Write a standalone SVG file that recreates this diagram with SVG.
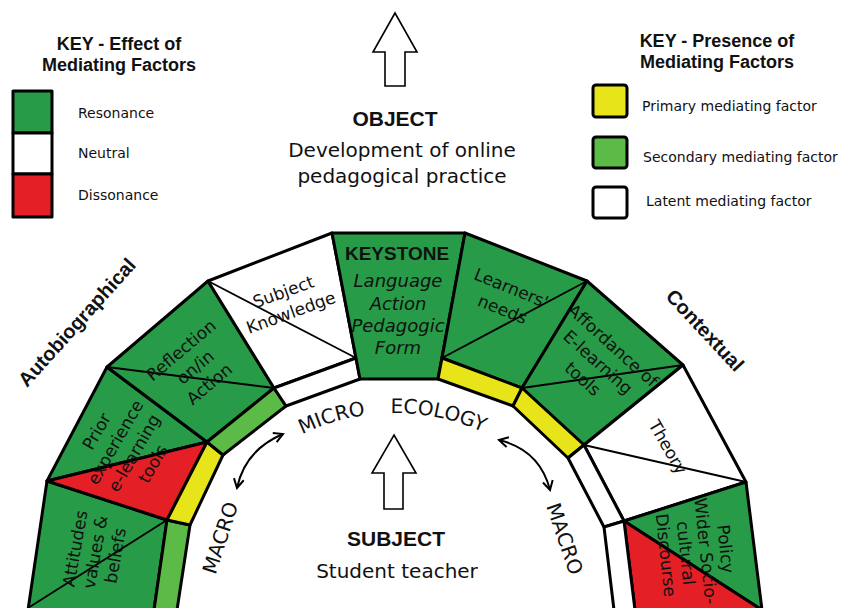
<svg xmlns="http://www.w3.org/2000/svg" width="842" height="608" viewBox="0 0 842 608">
<defs>
<style>
.seg{stroke:#000;stroke-width:3;stroke-linejoin:round}
.dg{fill:#279B48}.lg{fill:#5CBA47}.ye{fill:#E8E41A}.rd{fill:#E41F26}.wh{fill:#fff}
.diag{stroke:#000;stroke-width:1.8;fill:none}
.t{font-family:"DejaVu Sans",Verdana,sans-serif;fill:#111}
.st{font-size:17px;text-anchor:middle}
.b{font-family:"Liberation Sans",Arial,sans-serif;font-weight:bold;fill:#111}
.arrowbig{fill:#fff;stroke:#000;stroke-width:1.6;stroke-linejoin:miter}
.conn{fill:none;stroke:#000;stroke-width:2}
</style>
<marker id="chev" viewBox="0 0 12 12" refX="10" refY="6" markerWidth="12" markerHeight="12" markerUnits="userSpaceOnUse" orient="auto-start-reverse">
<path d="M1,1 L10,6 L1,11" fill="none" stroke="#000" stroke-width="2"/>
</marker>
</defs>
<rect width="842" height="608" fill="#fff"/>

<g id="key-effect">
<text class="b" x="119" y="50" font-size="18" text-anchor="middle">KEY - Effect of</text>
<text class="b" x="119" y="71" font-size="18" text-anchor="middle">Mediating Factors</text>
<rect class="seg dg" x="13" y="91" width="39" height="42"/>
<rect class="seg wh" x="13" y="133" width="39" height="41"/>
<rect class="seg rd" x="13" y="174" width="39" height="43"/>
<text class="t" x="78" y="118" font-size="14">Resonance</text>
<text class="t" x="78" y="158" font-size="14">Neutral</text>
<text class="t" x="78" y="200" font-size="14">Dissonance</text>
</g>

<g id="key-presence">
<text class="b" x="717" y="47" font-size="18" text-anchor="middle">KEY - Presence of</text>
<text class="b" x="717" y="68" font-size="18" text-anchor="middle">Mediating Factors</text>
<rect class="seg ye" x="593" y="85" width="34" height="32" rx="3"/>
<rect class="seg lg" x="593" y="137" width="34" height="31" rx="3"/>
<rect class="seg wh" x="593" y="187" width="34" height="31" rx="3"/>
<text class="t" x="642" y="111" font-size="14">Primary mediating factor</text>
<text class="t" x="643" y="162" font-size="14">Secondary mediating factor</text>
<text class="t" x="646" y="206" font-size="14">Latent mediating factor</text>
</g>

<g id="object">
<polygon class="arrowbig" points="395,13 417,52 405,52 405,86 385,86 385,52 373,52"/>
<text class="b" x="395" y="126" font-size="21" text-anchor="middle">OBJECT</text>
<text class="t" x="402" y="157" font-size="20" text-anchor="middle">Development of online</text>
<text class="t" x="402" y="183" font-size="20" text-anchor="middle">pedagogical practice</text>
</g>

<g id="subject">
<polygon class="arrowbig" points="394,435 416,473 403,473 403,509 384,509 384,473 372,473"/>
<text class="b" x="396" y="546" font-size="21" text-anchor="middle">SUBJECT</text>
<text class="t" x="397" y="578" font-size="20" text-anchor="middle">Student teacher</text>
</g>

<g id="attitudes">
<polygon class="seg dg" points="28,610 47,481 167,520 154,610"/>
<line class="diag" x1="28" y1="608" x2="167" y2="520"/>
<polygon class="seg lg" points="167,520 190,525 177,610 154,610"/>
<text class="t st" transform="translate(95,552) rotate(-80)"><tspan x="0" y="-14.3">Attitudes</tspan><tspan x="0" y="6.1">values &amp;</tspan><tspan x="0" y="26.5">beliefs</tspan></text>
</g>

<g id="prior-experience">
<polygon class="seg dg" points="47,481 107,367 207,442"/>
<polygon class="seg rd" points="47,481 207,442 167,520"/>
<polygon class="seg ye" points="207,442 223,455 190,525 167,520"/>
<text class="t st" transform="translate(124.6,447.5) rotate(-60)"><tspan x="0" y="-26.3">Prior</tspan><tspan x="0" y="-4.7">experience</tspan><tspan x="0" y="16.9">e-learning</tspan><tspan x="0" y="38.5">tools</tspan></text>
</g>

<g id="reflection">
<polygon class="seg dg" points="107,367 208,281 274,388 207,442"/>
<line class="diag" x1="107" y1="367" x2="274" y2="388"/>
<polygon class="seg lg" points="207,442 274,388 286,406 223,455"/>
<text class="t st" transform="translate(195,367) rotate(-40)"><tspan x="0" y="-15.9">Reflection</tspan><tspan x="0" y="6.1">on/in</tspan><tspan x="0" y="28.1">Action</tspan></text>
</g>

<g id="subject-knowledge">
<polygon class="seg wh" points="208,281 332,233 356,358 274,388"/>
<line class="diag" x1="208" y1="281" x2="356" y2="358"/>
<polygon class="seg wh" points="274,388 356,358 360,379 286,406"/>
<text class="t st" transform="translate(287,302) rotate(-20)"><tspan x="0" y="-4.9">Subject</tspan><tspan x="0" y="17.1">Knowledge</tspan></text>
</g>

<g id="keystone">
<polygon class="seg dg" points="332,233 465,233 438,379 360,379"/>
<text class="b" x="397" y="260" font-size="19" text-anchor="middle">KEYSTONE</text>
<text class="t" x="398" y="287" font-size="18" font-style="italic" text-anchor="middle">Language</text>
<text class="t" x="398" y="310" font-size="18" font-style="italic" text-anchor="middle">Action</text>
<text class="t" x="398" y="332" font-size="18" font-style="italic" text-anchor="middle">Pedagogic</text>
<text class="t" x="398" y="354" font-size="18" font-style="italic" text-anchor="middle">Form</text>
</g>

<g id="learners-needs">
<polygon class="seg dg" points="465,233 587,281 522,388 442,358"/>
<line class="diag" x1="587" y1="281" x2="442" y2="358"/>
<polygon class="seg ye" points="442,358 522,388 513,406 438,379"/>
<text class="t st" transform="translate(507,298.5) rotate(22)"><tspan x="0" y="-5.4">Learners'</tspan><tspan x="0" y="17.6">needs</tspan></text>
</g>

<g id="affordance">
<polygon class="seg dg" points="587,281 683,365 584,445 522,388"/>
<line class="diag" x1="522" y1="388" x2="683" y2="365"/>
<polygon class="seg ye" points="522,388 584,445 568,458 513,406"/>
<text class="t st" transform="translate(598,362) rotate(42)"><tspan x="0" y="-16.4">Affordance of</tspan><tspan x="0" y="6.1">E-learning</tspan><tspan x="0" y="28.6">tools</tspan></text>
</g>

<g id="theory">
<polygon class="seg wh" points="683,365 746,482 624,521 584,445"/>
<line class="diag" x1="584" y1="445" x2="746" y2="482"/>
<polygon class="seg wh" points="584,445 624,521 604,527 568,458"/>
<text class="t st" transform="translate(668,447) rotate(60)"><tspan x="0" y="6.1">Theory</tspan></text>
</g>

<g id="policy">
<polygon class="seg dg" points="624,521 746,482 762,610"/>
<polygon class="seg rd" points="624,521 762,610 635,610"/>
<polygon class="seg wh" points="624,521 635,610 614,610 604,527"/>
<text class="t st" transform="translate(696,552) rotate(84)"><tspan x="0" y="-23.9">Policy</tspan><tspan x="0" y="-3.9">Wider Socio-</tspan><tspan x="0" y="16.1">cultural</tspan><tspan x="0" y="36.1">Discourse</tspan></text>
</g>

<g id="labels">
<text class="b" font-size="20" text-anchor="middle" transform="translate(82,327) rotate(-48)">Autobiographical</text>
<text class="b" font-size="20" text-anchor="middle" transform="translate(700,335) rotate(47)">Contextual</text>
<path id="arcpath" d="M 183,625 A 212,212 0 0 1 607,625" fill="none"/>
<text class="t" font-size="20" text-anchor="middle"><textPath href="#arcpath" startOffset="270">MICRO</textPath></text>
<text class="t" font-size="20" text-anchor="middle"><textPath href="#arcpath" startOffset="376">ECOLOGY</textPath></text>
<text class="t" font-size="20" text-anchor="middle" transform="translate(227,540) rotate(-72)">MACRO</text>
<text class="t" font-size="20" text-anchor="middle" transform="translate(558,541) rotate(71)">MACRO</text>
</g>

<g id="connectors">
<path class="conn" d="M 237,488 Q 245,450 283,434" marker-start="url(#chev)" marker-end="url(#chev)"/>
<path class="conn" d="M 499,440 Q 540,450 550,490" marker-start="url(#chev)" marker-end="url(#chev)"/>
</g>
</svg>
